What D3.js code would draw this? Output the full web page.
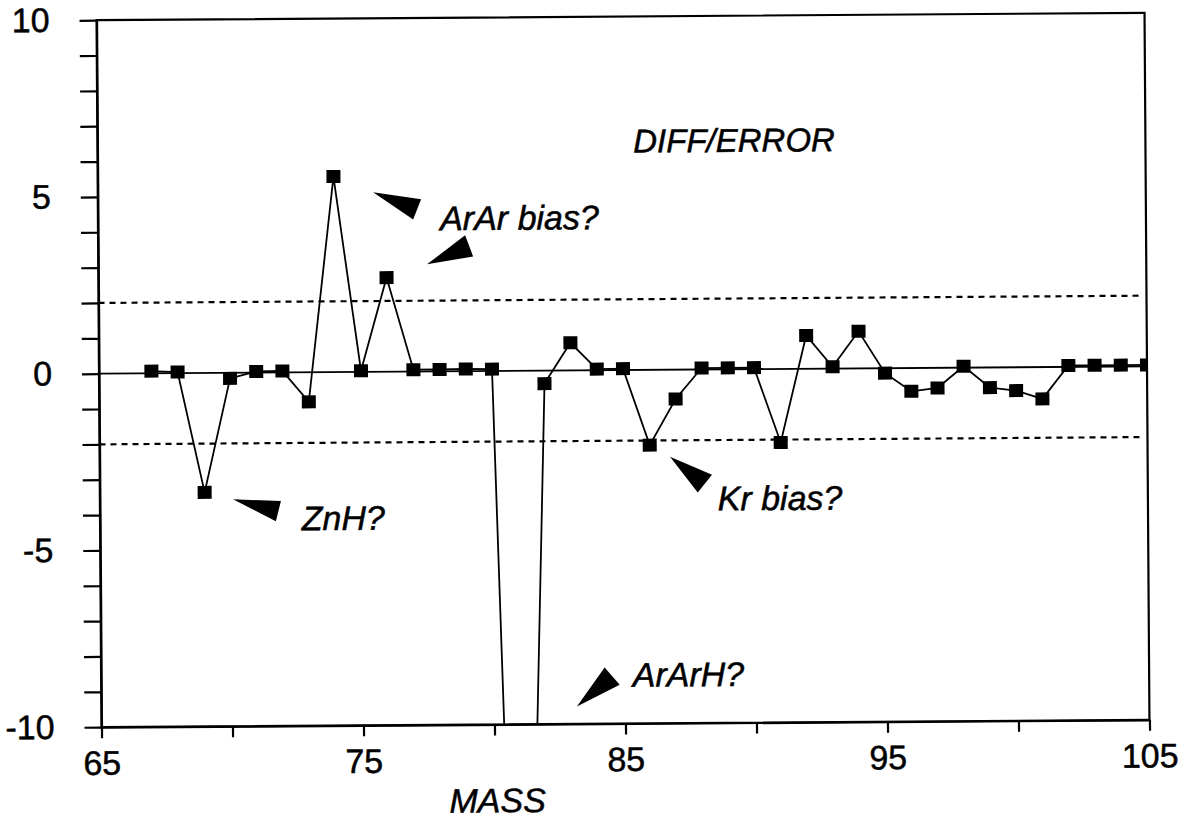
<!DOCTYPE html>
<html>
<head>
<meta charset="utf-8">
<script src="https://cdn.jsdelivr.net/npm/d3@7/dist/d3.min.js"></script>
<style>
  body { margin: 0; background: #fff; }
  svg { display: block; }
  text { font-family: "Liberation Sans", Arial, Helvetica, sans-serif; fill: #000; stroke: #000; stroke-width: 0.5px; }
</style>
</head>
<body>
<svg id="chart" width="1195" height="819"></svg>
<script>
// Mass number of each measured isotope
const masses = [67, 68, 69, 70, 71, 72, 73, 74, 75, 76, 77, 78, 79, 80, 81, 82, 83, 84, 85, 86,
                87, 88, 89, 90, 91, 92, 93, 94, 95, 96, 97, 98, 99, 100, 101, 102, 103, 104, 105];
// Difference divided by its error at each mass
const diffError = [0.06, 0.03, -3.38, -0.16, 0.03, 0.04, -0.84, 5.53, 0.03, 2.66, 0.05, 0.05, 0.06, 0.05,
                   -27, -0.37, 0.78, 0.03, 0.04, -2.13, -0.83, 0.04, 0.04, 0.04, -2.08, 0.94, 0.05, 1.05,
                   -0.14, -0.66, -0.57, 0.04, -0.57, -0.66, -0.9, 0.04, 0.04, 0.04, 0.04];

// Axis ticks
const xTicks = [65, 70, 75, 80, 85, 90, 95, 100, 105];
const xTickLabels = [65, 75, 85, 95, 105];
const yTicks = d3.range(-10, 11, 1);
const yTickLabels = [-10, -5, 0, 5, 10];

// ±2 sigma guide lines
const sigmaBands = [2, -2];

// Annotation labels and their anchor positions (data units)
const noteText = ["DIFF/ERROR", "ArAr bias?", "ZnH?", "Kr bias?", "ArArH?"];
const noteX = [85.45, 78.06, 72.70, 88.58, 85.29];
const noteY = [6.15, 3.99, -4.47, -3.99, -8.96];
const noteSize = [33, 34, 34, 34, 34];

// Wedge pointers next to the labels (data units)
const pointers = [
  [[75.51, 5.08], [77.34, 4.87], [77.03, 4.30]],
  [[77.55, 3.03], [79.01, 3.84], [79.31, 3.24]],
  [[70.08, -3.58], [71.91, -3.64], [71.71, -4.21]],
  [[86.77, -2.46], [88.37, -2.98], [87.82, -3.48]],
  [[83.15, -9.51], [84.22, -8.41], [84.79, -8.90]]
];

const L = 99, R = 1147, T = 16.5, B = 723.5;
const x = d3.scaleLinear().domain([65, 105]).range([L, R]);
const y = d3.scaleLinear().domain([-10, 10]).range([B, T]);

const svg = d3.select("#chart");
const g = svg.append("g").attr("transform", "rotate(-0.4,623,370)");

g.append("clipPath").attr("id", "plotClip")
  .append("rect").attr("x", L).attr("y", T).attr("width", R - L).attr("height", B - T);

// Frame
g.append("rect")
  .attr("x", L).attr("y", T).attr("width", R - L).attr("height", B - T)
  .attr("fill", "none").attr("stroke", "#000").attr("stroke-width", 2.2);

// Axes
const yAxis = d3.axisLeft(y)
  .tickValues(yTicks)
  .tickSize(17).tickSizeOuter(0).tickPadding(30)
  .tickFormat(d => yTickLabels.includes(d) ? String(d) : "");
const gy = g.append("g").attr("transform", `translate(${L},0)`).call(yAxis);

const xAxis = d3.axisBottom(x)
  .tickValues(xTicks)
  .tickSize(11).tickSizeOuter(0).tickPadding(12.5)
  .tickFormat(d => xTickLabels.includes(d) ? String(d) : "");
const gx = g.append("g").attr("transform", `translate(0,${B})`).call(xAxis);

[gx, gy].forEach(a => {
  a.select(".domain").attr("stroke", "#000").attr("stroke-width", 2.2);
  a.selectAll(".tick line").attr("stroke", "#000").attr("stroke-width", 2.2);
  a.selectAll(".tick text").attr("font-size", 34).attr("fill", "#000")
    .style("font-family", '"Liberation Sans", Arial, Helvetica, sans-serif');
});

// Axis title
g.append("text")
  .attr("x", x(80.1)).attr("y", B + 88)
  .attr("text-anchor", "middle")
  .attr("font-size", 34).attr("font-style", "italic")
  .text("MASS");

const plot = g.append("g").attr("clip-path", "url(#plotClip)");

// Zero reference line
plot.append("line")
  .attr("x1", x(65)).attr("x2", x(105))
  .attr("y1", y(0)).attr("y2", y(0))
  .attr("stroke", "#000").attr("stroke-width", 1.8);

// ±2 dashed lines
plot.selectAll("line.band").data(sigmaBands).join("line")
  .attr("class", "band")
  .attr("x1", x(65)).attr("x2", x(104.8))
  .attr("y1", d => y(d)).attr("y2", d => y(d))
  .attr("stroke", "#000").attr("stroke-width", 2.2)
  .attr("stroke-dasharray", "6,5");

// Data line and markers
const pts = masses.map((m, i) => [m, diffError[i]]);
plot.append("path")
  .datum(pts)
  .attr("fill", "none").attr("stroke", "#000").attr("stroke-width", 1.8)
  .attr("d", d3.line().x(d => x(d[0])).y(d => y(d[1])));

const sq = 14;
plot.selectAll("rect.pt").data(pts).join("rect")
  .attr("class", "pt")
  .attr("x", d => x(d[0]) - sq / 2).attr("y", d => y(d[1]) - (sq - 1) / 2)
  .attr("width", sq).attr("height", sq - 1)
  .attr("fill", "#000");

// Annotation pointers
g.selectAll("path.pointer").data(pointers).join("path")
  .attr("class", "pointer")
  .attr("d", d => "M" + d.map(p => `${x(p[0])},${y(p[1])}`).join("L") + "Z")
  .attr("fill", "#000");

// Annotation labels
g.selectAll("text.note").data(noteText).join("text")
  .attr("class", "note")
  .attr("x", (d, i) => x(noteX[i])).attr("y", (d, i) => y(noteY[i]))
  .attr("font-size", (d, i) => noteSize[i]).attr("font-style", "italic")
  .text(d => d);
</script>
</body>
</html>
